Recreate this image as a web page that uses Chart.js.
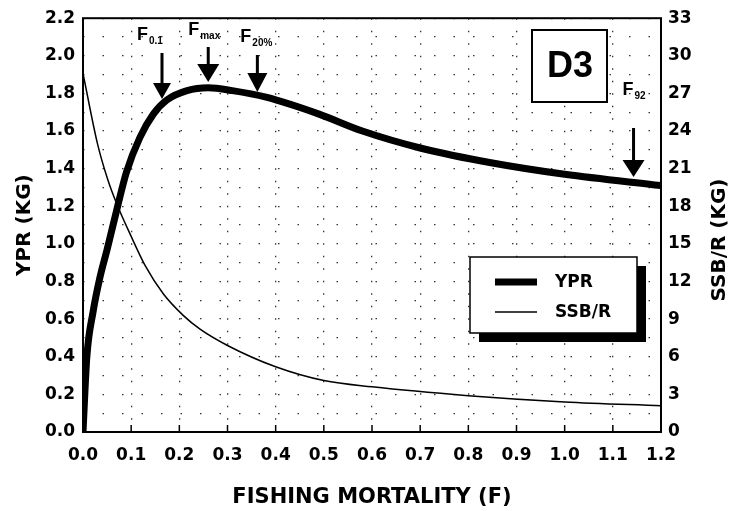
<!DOCTYPE html>
<html>
<head>
<meta charset="utf-8">
<script src="https://cdn.jsdelivr.net/npm/chart.js@4.4.1/dist/chart.umd.min.js"></script>
<style>
  body { margin: 0; background: #fff; }
</style>
</head>
<body>
<canvas id="myChart" width="734" height="511"></canvas>
<script>
'use strict'

// YPR curve (left axis, kg)
const yprF = [0, 0.008, 0.021, 0.035, 0.05, 0.07, 0.09, 0.118, 0.146, 0.174, 0.216, 0.26, 0.31, 0.38, 0.49, 0.58, 0.70, 0.85, 1.00, 1.20];
const yprKg = [0, 0.40, 0.64, 0.82, 0.97, 1.18, 1.38, 1.565, 1.69, 1.765, 1.815, 1.83, 1.815, 1.78, 1.69, 1.60, 1.51, 1.43, 1.37, 1.31];

// SSB/R curve (right axis, kg)
const ssbF = [0, 0.03, 0.05, 0.07, 0.10, 0.13, 0.167, 0.208, 0.243, 0.30, 0.40, 0.50, 0.60, 0.80, 1.00, 1.20];
const ssbKg = [28.6, 23.0, 20.3, 18.2, 15.6, 13.2, 11.0, 9.3, 8.2, 6.9, 5.2, 4.1, 3.6, 2.9, 2.4, 2.1];

// reference points marked with arrows
const refSub = ['0.1', 'max', '20%', '92'];
const refF = [0.164, 0.26, 0.362, 1.143];

const panelLabel = 'D3';
const rightTitle = 'SSB/R (KG)';

const tickFont = { family: 'DejaVu Sans', weight: 'bold', size: 17 };
const titleFont = { family: 'DejaVu Sans', weight: 'bold', size: 20 };

function pts(xs, ys) {
  let out = [];
  for (let i = 0; i < xs.length; i++) out.push({ x: xs[i], y: ys[i] });
  return out;
}

// arrow styles: shaft top, head start, tip, head width, label offset
const arrowStyle = [
  { top: 53, head: 83, tip: 99, w: 18, dx: -25, base: 40 },
  { top: 47, head: 64, tip: 82, w: 22, dx: -20, base: 35 },
  { top: 55, head: 73, tip: 92, w: 20, dx: -17, base: 42 },
  { top: 128, head: 160, tip: 177, w: 22, dx: -11, base: 95 }
];

const decor = {
  id: 'decor',
  afterDatasetsDraw(chart) {
    const c = chart.ctx;
    const a = chart.chartArea;
    const xs = chart.scales.x;
    c.save();

    // frame
    c.strokeStyle = '#000';
    c.lineWidth = 2;
    c.strokeRect(a.left, a.top, a.right - a.left, a.bottom - a.top);

    // inner tick marks on bottom axis
    c.lineWidth = 1.5;
    for (let v = 1; v < 12; v++) {
      const px = xs.getPixelForValue(v / 10);
      c.beginPath();
      c.moveTo(px, a.bottom);
      c.lineTo(px, a.bottom - 7);
      c.stroke();
    }

    // arrows + labels
    c.fillStyle = '#000';
    for (let i = 0; i < refF.length; i++) {
      const s = arrowStyle[i];
      const px = xs.getPixelForValue(refF[i]);
      c.lineWidth = 3;
      c.beginPath();
      c.moveTo(px, s.top);
      c.lineTo(px, s.head + 1);
      c.stroke();
      c.beginPath();
      c.moveTo(px - s.w / 2, s.head);
      c.lineTo(px + s.w / 2, s.head);
      c.lineTo(px, s.tip);
      c.closePath();
      c.fill();
      c.textAlign = 'left';
      c.textBaseline = 'alphabetic';
      c.font = 'bold 18px "Liberation Sans"';
      const lx = px + s.dx;
      c.fillText('F', lx, s.base);
      c.font = 'bold 10px "Liberation Sans"';
      c.fillText(refSub[i], lx + 12, s.base + 4);
    }

    // panel label box
    c.fillStyle = '#fff';
    c.fillRect(532, 30, 75, 72);
    c.lineWidth = 2;
    c.strokeRect(532, 30, 75, 72);
    c.fillStyle = '#000';
    c.font = 'bold 36px "Liberation Sans"';
    c.textAlign = 'center';
    c.textBaseline = 'middle';
    c.fillText(panelLabel, 570, 67);

    // legend box with shadow
    const lb = { x: 470, y: 257, w: 167, h: 76 };
    c.fillStyle = '#000';
    c.fillRect(lb.x + 9, lb.y + 9, lb.w, lb.h);
    c.fillStyle = '#fff';
    c.fillRect(lb.x, lb.y, lb.w, lb.h);
    c.lineWidth = 1.5;
    c.strokeRect(lb.x, lb.y, lb.w, lb.h);
    const ds = chart.data.datasets;
    const rowY = [282, 312];
    c.font = 'bold 17px "DejaVu Sans"';
    c.textAlign = 'left';
    c.textBaseline = 'middle';
    for (let i = 0; i < ds.length; i++) {
      c.strokeStyle = ds[i].borderColor;
      c.lineWidth = ds[i].borderWidth;
      c.beginPath();
      c.moveTo(495, rowY[i]);
      c.lineTo(537, rowY[i]);
      c.stroke();
      c.fillStyle = '#000';
      c.fillText(ds[i].label, 555, rowY[i] + 1);
    }

    // right axis title, reading bottom to top like the left one
    c.translate(720, 240);
    c.rotate(-Math.PI / 2);
    c.font = 'bold 20px "DejaVu Sans"';
    c.textAlign = 'center';
    c.textBaseline = 'middle';
    c.fillText(rightTitle, 0, 0);
    c.restore();
  }
};

const ctx = document.getElementById('myChart');

new Chart(ctx, {
  type: 'line',
  data: {
    datasets: [{
      label: 'YPR',
      data: pts(yprF, yprKg),
      yAxisID: 'y',
      borderColor: '#000',
      borderWidth: 7,
      pointRadius: 0,
      cubicInterpolationMode: 'monotone',
      borderCapStyle: 'butt'
    }, {
      label: 'SSB/R',
      data: pts(ssbF, ssbKg),
      yAxisID: 'y2',
      borderColor: '#000',
      borderWidth: 1.5,
      pointRadius: 0,
      cubicInterpolationMode: 'monotone'
    }]
  },
  options: {
    responsive: false,
    animation: false,
    devicePixelRatio: 1,
    layout: { padding: { top: 17, left: 0, right: 0, bottom: 0 } },
    plugins: {
      legend: { display: false },
      tooltip: { enabled: false }
    },
    scales: {
      x: {
        type: 'linear',
        min: 0,
        max: 1.2,
        border: { display: false, dash: [1.5, 11] },
        grid: { color: '#333', lineWidth: 1.3, drawTicks: false },
        ticks: {
          stepSize: 0.1,
          autoSkip: false,
          maxRotation: 0,
          padding: 13,
          color: '#000',
          font: tickFont,
          callback: v => v.toFixed(1)
        },
        title: {
          display: true,
          text: 'FISHING MORTALITY (F)',
          color: '#000',
          font: { family: 'DejaVu Sans', weight: 'bold', size: 21 },
          padding: { top: 0, bottom: 1 }
        },
        afterFit: s => { s.height = 79; }
      },
      y: {
        position: 'left',
        min: 0,
        max: 2.2,
        border: { display: false, dash: [1.5, 18] },
        grid: { color: '#333', lineWidth: 1.3, drawTicks: false },
        ticks: {
          stepSize: 0.1,
          autoSkip: false,
          padding: 8,
          color: '#000',
          font: tickFont,
          callback: v => (Math.round(v * 10) % 2 === 0 ? v.toFixed(1) : '')
        },
        title: {
          display: true,
          text: 'YPR (KG)',
          color: '#000',
          font: titleFont,
          padding: { top: 13, bottom: 0 }
        },
        afterFit: s => { s.width = 83; }
      },
      y2: {
        position: 'right',
        min: 0,
        max: 33,
        border: { display: false },
        grid: { display: false, drawTicks: false },
        ticks: {
          stepSize: 3,
          padding: 7,
          color: '#000',
          font: tickFont
        },
        afterFit: s => { s.width = 73; }
      }
    }
  },
  plugins: [decor]
});
</script>
</body>
</html>
